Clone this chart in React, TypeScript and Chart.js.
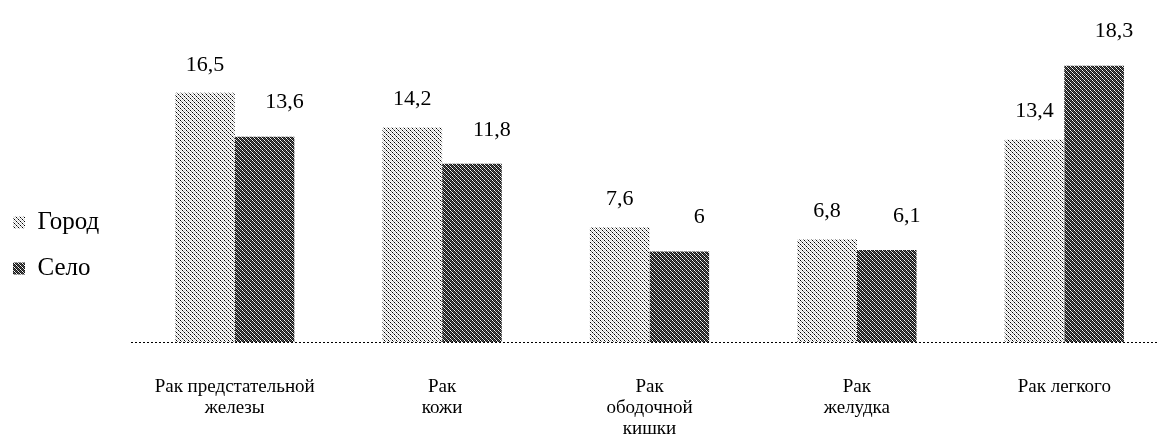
import React, { useEffect, useRef } from "react";
import { Chart, registerables } from "chart.js";

Chart.register(...registerables);

const categories: string[][] = [
  ["Рак предстательной", "железы"],
  ["Рак", "кожи"],
  ["Рак", "ободочной", "кишки"],
  ["Рак", "желудка"],
  ["Рак легкого"],
];
const seriesNames = ["Город", "Село"];
const cityValues = [16.5, 14.2, 7.6, 6.8, 13.4];
const villageValues = [13.6, 11.8, 6, 6.1, 18.3];
const yMin = 0;
const yMax = 20;

const FONT = "'Liberation Serif', 'Times New Roman', serif";

function makePattern(dark: boolean): CanvasPattern | string {
  const c = document.createElement("canvas");
  c.width = 4;
  c.height = 4;
  const g = c.getContext("2d");
  if (!g) return dark ? "#333" : "#bbb";
  g.fillStyle = dark ? "#111" : "#fff";
  g.fillRect(0, 0, 4, 4);
  for (let i = 0; i < 4; i++) {
    if (dark) {
      g.fillStyle = i % 2 === 0 ? "#fff" : "#ccc";
      g.fillRect(i, i, 1, 1);
      g.fillStyle = "#555";
      g.fillRect((i + 2) % 4, i, 1, 1);
    } else {
      g.fillStyle = i % 2 === 0 ? "#000" : "#777";
      g.fillRect(i, i, 1, 1);
      g.fillStyle = "#ddd";
      g.fillRect((i + 2) % 4, i, 1, 1);
    }
  }
  const p = g.createPattern(c, "repeat");
  return p || (dark ? "#333" : "#bbb");
}

const valueLabelPlugin = {
  id: "valueLabels",
  afterDatasetsDraw(chart: any) {
    const ctx = chart.ctx;
    ctx.save();
    // dotted baseline at value 0
    const y0 = chart.scales.y.getPixelForValue(0) + 0.5;
    ctx.strokeStyle = "#000";
    ctx.lineWidth = 1;
    ctx.setLineDash([2, 2]);
    ctx.beginPath();
    ctx.moveTo(chart.chartArea.left, y0);
    ctx.lineTo(chart.chartArea.right, y0);
    ctx.stroke();
    ctx.setLineDash([]);

    ctx.font = `22px ${FONT}`;
    ctx.fillStyle = "#000";
    ctx.textAlign = "center";
    ctx.textBaseline = "middle";
    chart.data.datasets.forEach((ds: any, di: number) => {
      const meta = chart.getDatasetMeta(di);
      const dx = di === 0 ? 0 : 20;
      const dy = di === 0 ? 28 : 34;
      meta.data.forEach((bar: any, i: number) => {
        const v = ds.data[i];
        ctx.fillText(String(v).replace(".", ","), bar.x + dx, bar.y - dy);
      });
    });
    ctx.restore();
  },
};

const legendPatchPlugin = {
  id: "legendPatch",
  beforeLayout(chart: any) {
    const lg = chart.legend;
    if (lg && !lg.__patched) {
      lg.__patched = true;
      const origFit = lg.fit.bind(lg);
      lg.fit = function () {
        origFit();
        this.width = 131;
      };
      const origDraw = lg.draw.bind(lg);
      lg.draw = function () {
        const c = this.ctx;
        c.save();
        c.translate(-8, 5);
        origDraw();
        c.restore();
      };
    }
  },
};

export default function App() {
  const ref = useRef<HTMLCanvasElement | null>(null);
  useEffect(() => {
    if (!ref.current) return;
    const light = makePattern(false);
    const dark = makePattern(true);
    const chart = new Chart(ref.current, {
      type: "bar",
      data: {
        labels: categories,
        datasets: [
          {
            label: seriesNames[0],
            data: cityValues,
            backgroundColor: light as any,
            borderWidth: 0,
            barPercentage: 1,
            categoryPercentage: 0.575,
          },
          {
            label: seriesNames[1],
            data: villageValues,
            backgroundColor: dark as any,
            borderWidth: 0,
            barPercentage: 1,
            categoryPercentage: 0.575,
          },
        ],
      },
      options: {
        animation: false,
        responsive: true,
        maintainAspectRatio: false,
        devicePixelRatio: 1,
        layout: { padding: { top: 40, right: 0, bottom: 0, left: 0 } },
        plugins: {
          legend: {
            position: "left",
            align: "center",
            labels: {
              boxWidth: 12,
              boxHeight: 12,
              padding: 21,
              color: "#000",
              font: { family: FONT, size: 25 },
            },
          },
          tooltip: { enabled: false },
        },
        scales: {
          x: {
            grid: { display: false },
            border: { display: false },
            ticks: {
              color: "#000",
              font: { family: FONT, size: 19, lineHeight: 1.1 },
              padding: 27,
              maxRotation: 0,
              autoSkip: false,
            },
            afterFit(scale: any) {
              scale.height = 99;
            },
          },
          y: {
            display: false,
            min: yMin,
            max: yMax,
          },
        },
      },
      plugins: [valueLabelPlugin, legendPatchPlugin],
    });
    return () => chart.destroy();
  }, []);
  return (
    <div style={{ position: "absolute", left: 0, top: 0, width: 1159, height: 441, overflow: "hidden", background: "#fff" }}>
      <div style={{ position: "relative", width: 1168, height: 441 }}>
        <canvas ref={ref} />
      </div>
    </div>
  );
}
